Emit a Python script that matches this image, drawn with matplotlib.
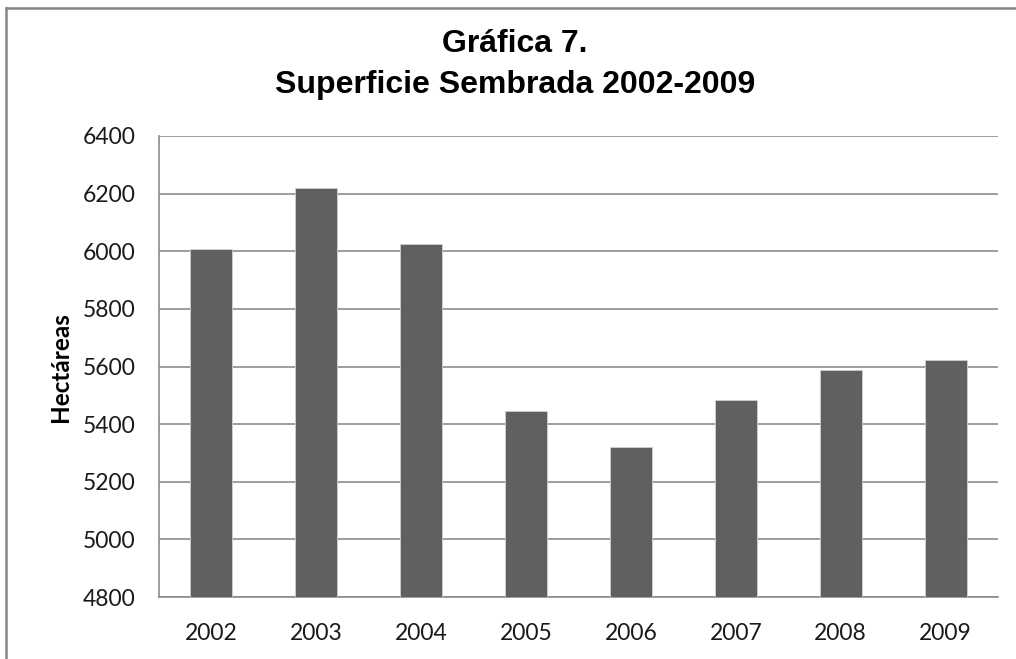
import matplotlib.pyplot as plt
from matplotlib.lines import Line2D

years = ['2002', '2003', '2004', '2005', '2006', '2007', '2008', '2009']
hectareas = [6007, 6221, 6024, 5447, 5322, 5483, 5589, 5624]
y_ticks = [4800, 5000, 5200, 5400, 5600, 5800, 6000, 6200, 6400]

W, H = 1016, 659
fig = plt.figure(figsize=(W / 100, H / 100), dpi=100)
ax = fig.add_axes([159 / W, 1 - 597 / H, (998 - 159) / W, (597 - 136) / H])

x = range(len(years))
ax.bar(x, hectareas, width=0.4, color='#606060', edgecolor='#d0d0d0',
       linewidth=0.6, zorder=3)

ax.set_xlim(-0.5, len(years) - 0.5)
ax.set_ylim(4800, 6400)
ax.set_yticks(y_ticks)
ax.set_xticks(list(x))
ax.set_xticklabels(years)
ax.yaxis.grid(True, color='#8c8c8c', linewidth=1.2, zorder=0)

for side in ['top', 'right']:
    ax.spines[side].set_visible(False)
for side in ['left', 'bottom']:
    ax.spines[side].set_color('#8c8c8c')
    ax.spines[side].set_linewidth(1.2)

ax.tick_params(axis='both', length=0, labelsize=16.5, colors='#1a1a1a')
ax.tick_params(axis='y', pad=17)
ax.tick_params(axis='x', pad=19)
for lbl in ax.get_xticklabels() + ax.get_yticklabels():
    lbl.set_fontfamily('Lato')

fig.text(60 / W, 1 - 367 / H, 'Hectáreas', rotation=90, ha='center', va='center',
         fontsize=17.5, fontweight='bold', family='Lato', color='#000000')

fig.text(515 / W, 1 - 44 / H, 'Gráfica 7.', ha='center', va='center',
         fontsize=23, fontweight='bold', family='Liberation Sans')
fig.text(515 / W, 1 - 85 / H, 'Superficie Sembrada 2002-2009', ha='center', va='center',
         fontsize=23, fontweight='bold', family='Liberation Sans')

# borde exterior del gráfico
fig.add_artist(Line2D([6 / W, 6 / W], [0, 1 - 8 / H], color='#868686', linewidth=1.8,
                      transform=fig.transFigure))
fig.add_artist(Line2D([6 / W, 1], [1 - 8 / H, 1 - 8 / H], color='#868686', linewidth=1.8,
                      transform=fig.transFigure))

fig.savefig('out.png', dpi=100)
